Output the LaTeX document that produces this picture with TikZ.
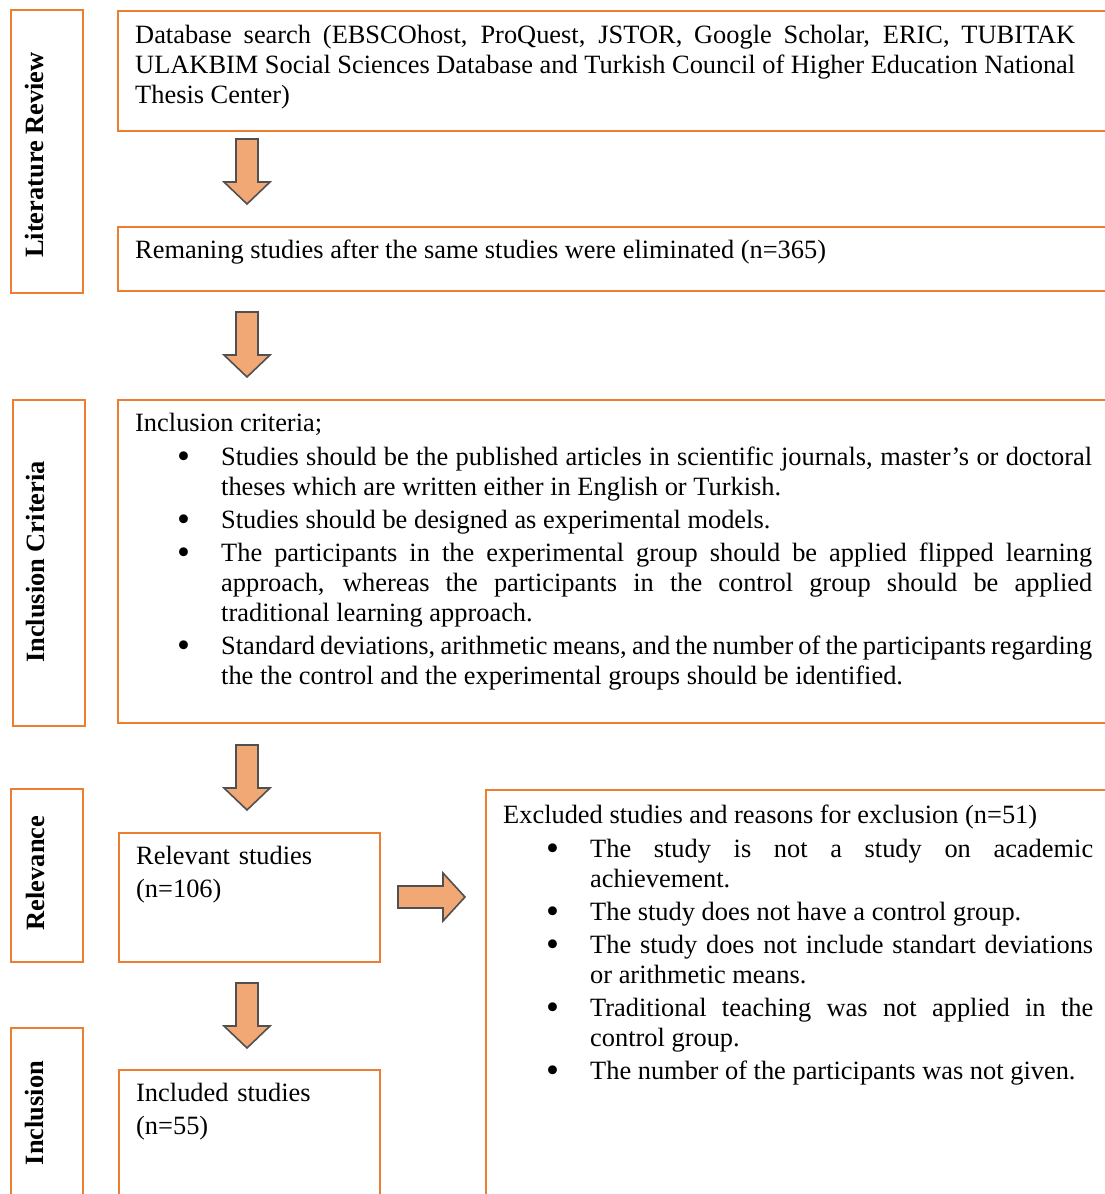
\documentclass[tikz,border=0pt]{standalone}
\usepackage{fontspec}
\setmainfont{Liberation Serif}
\definecolor{boxorange}{HTML}{ED7D31}
\definecolor{arrowfill}{HTML}{F2A874}
\definecolor{arrowline}{HTML}{505050}
\newcommand\critem{\par\vspace{3pt}\noindent\llap{\makebox[44pt][l]{\smash{\raisebox{-3pt}{\scalebox{1.4}{\textbullet}}}}}}
\tikzset{
  box/.style={draw=boxorange, line width=2pt, anchor=north west, inner sep=0pt},
  sidelabel/.style={rotate=90, inner sep=0pt, font=\bfseries\fontsize{26.4}{30}\selectfont},
  bodytext/.style={anchor=base west, inner sep=0pt, align=justify, font=\fontsize{26.4}{30}\selectfont},
  blockarrow/.style={fill=arrowfill, draw=arrowline, line width=1.6pt, line join=miter},
  downblock/.pic={\path[blockarrow] (-11,0) -- (11,0) -- (11,43) -- (23,43) -- (0,65) -- (-23,43) -- (-11,43) -- cycle;},
  rightblock/.pic={\path[blockarrow] (0,-11) -- (45,-11) -- (45,-24) -- (67,0) -- (45,24) -- (45,11) -- (0,11) -- cycle;}
}
\begin{document}
\begin{tikzpicture}[x=1pt,y=-1pt]
\useasboundingbox (0,0) rectangle (1105,1194);
\clip (0,0) rectangle (1105,1194);
\node[box, minimum width=72pt, minimum height=283pt] (litbox) at (10,9) {};
\node[box, minimum width=72pt, minimum height=326pt] (critbox) at (12,399) {};
\node[box, minimum width=72pt, minimum height=173pt] (relbox) at (10,788) {};
\node[box, minimum width=72pt, minimum height=180pt] (incbox) at (10,1027) {};
\node[sidelabel] (litlabel) at (35,155) {Literature Review};
\node[sidelabel] (critlabel) at (36,562) {Inclusion Criteria};
\node[sidelabel] (rellabel) at (35,873) {Relevance};
\node[sidelabel] (inclabel) at (35,1113) {Inclusion};
\node[box, minimum width=993pt, minimum height=120pt] (search) at (117,10) {};
\node[box, minimum width=993pt, minimum height=64pt] (remain) at (117,226) {};
\node[box, minimum width=993pt, minimum height=323pt] (criteria) at (117,399) {};
\node[box, minimum width=261pt, minimum height=129pt] (relevant) at (118,832) {};
\node[box, minimum width=261pt, minimum height=140pt] (included) at (118,1069) {};
\node[box, minimum width=625pt, minimum height=420pt] (excluded) at (485,789) {};
\node[bodytext, text width=940pt] (searchtext) at (135,43) {Database search (EBSCOhost, ProQuest, JSTOR, Google Scholar, ERIC, TUBITAK\linebreak ULAKBIM Social Sciences Database and Turkish Council of Higher Education National\linebreak Thesis Center)};
\node[bodytext] (remaintext) at (135,258) {Remaning studies after the same studies were eliminated (n=365)};
\node[bodytext, text width=957pt] (criteriatext) at (135,431) {\noindent Inclusion criteria;\par\leftskip=86pt\vspace{1.5pt}
\critem Studies should be the published articles in scientific journals, master's or doctoral\linebreak theses which are written either in English or Turkish.
\critem Studies should be designed as experimental models.
\critem The participants in the experimental group should be applied flipped learning\linebreak approach, whereas the participants in the control group should be applied\linebreak traditional learning approach.
\critem Standard deviations, arithmetic means, and the number of the participants regarding\linebreak the the control and the experimental groups should be identified.\par};
\node[bodytext, text width=230pt, align=left] (relevanttext) at (136,864) {Relevant studies\\[3pt](n=106)};
\node[bodytext, text width=230pt, align=left] (includedtext) at (136,1101) {Included studies\\[3pt](n=55)};
\node[bodytext, text width=590pt] (excludedtext) at (503,823) {\noindent Excluded studies and reasons for exclusion (n=51)\par\leftskip=87pt\vspace{1.5pt}
\critem The study is not a study on academic\linebreak achievement.
\critem The study does not have a control group.
\critem The study does not include standart deviations\linebreak or arithmetic means.
\critem Traditional teaching was not applied in the\linebreak control group.
\critem The number of the participants was not given.\par};
\pic at (247,139) {downblock};
\pic at (247,312) {downblock};
\pic at (247,745) {downblock};
\pic at (247,983) {downblock};
\pic at (398,897) {rightblock};
\end{tikzpicture}
\end{document}
